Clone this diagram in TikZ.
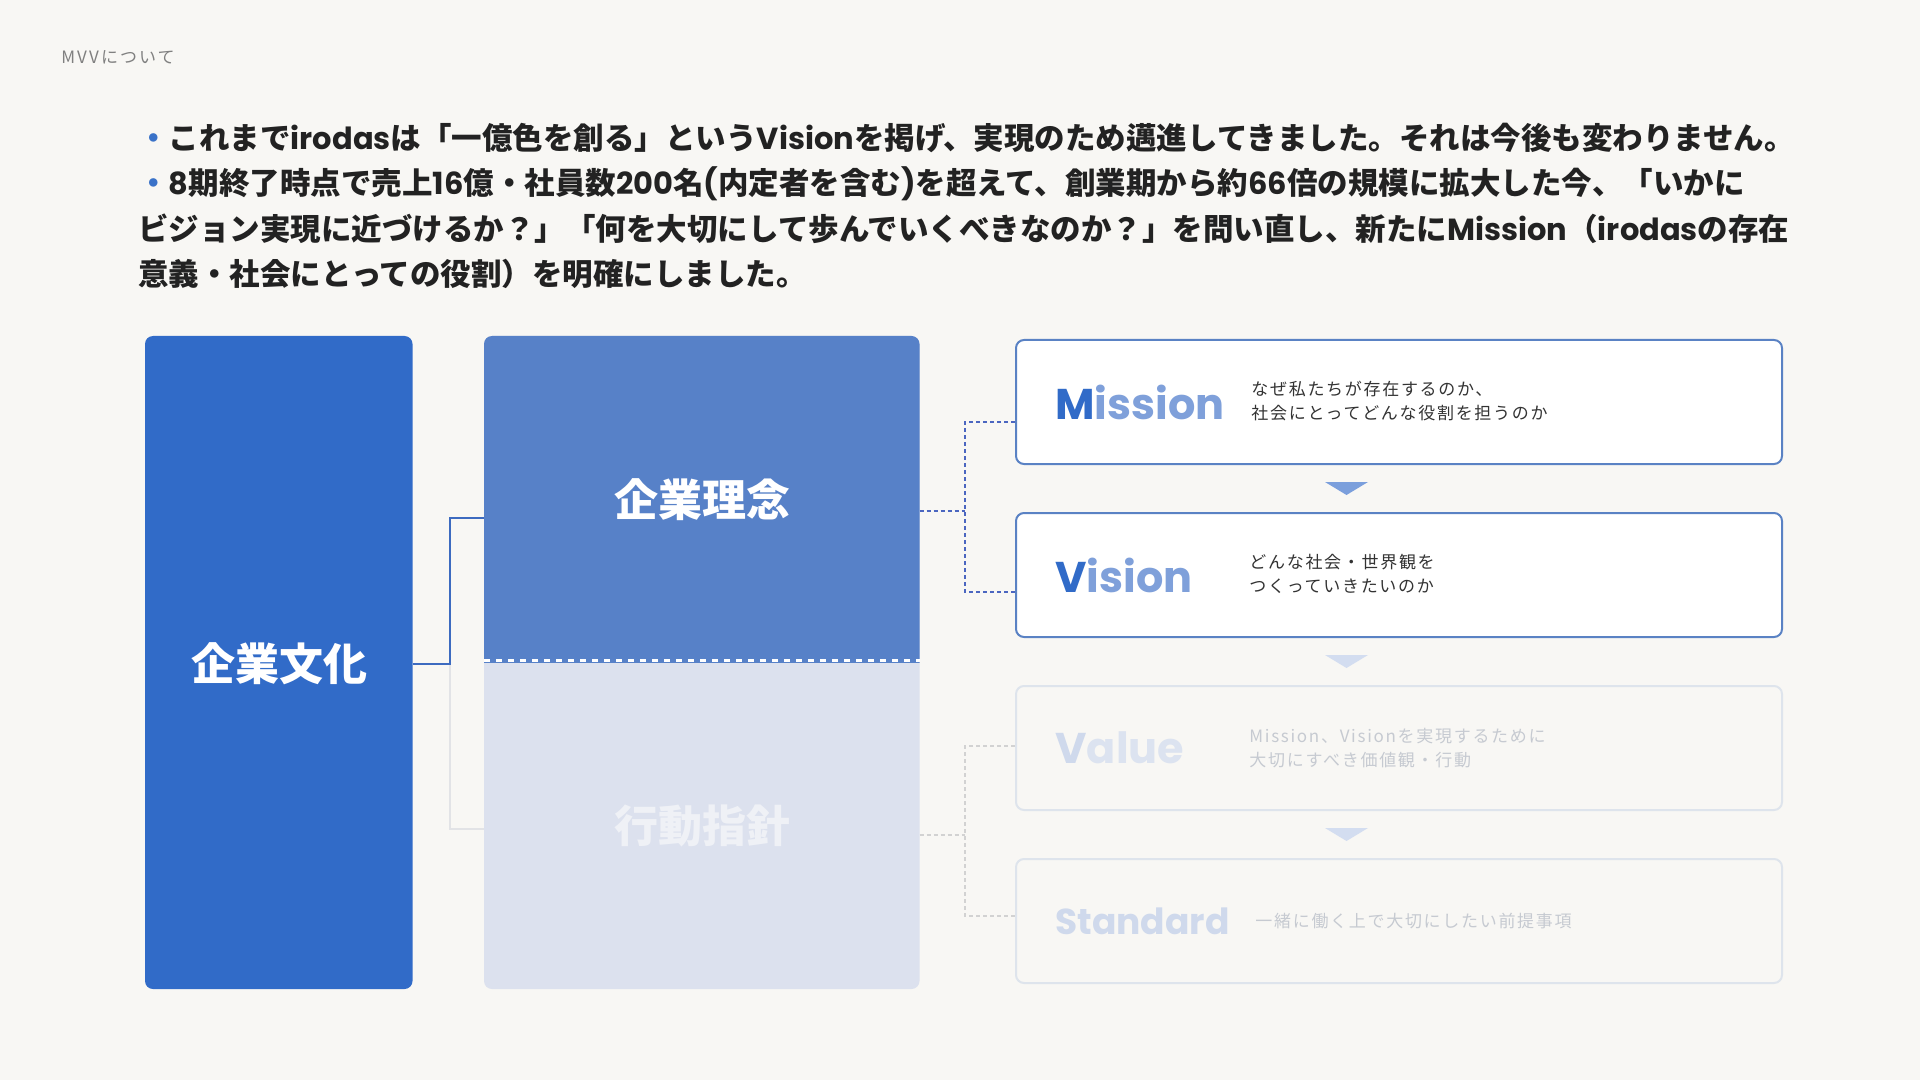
\documentclass[tikz,border=0pt]{standalone}
\usepackage{fontspec}
\setmainfont{Noto Sans CJK JP}
\newfontfamily\pop{Poppins}
\usetikzlibrary{fit}
\definecolor{bg}{HTML}{F8F7F4}
\definecolor{deep}{HTML}{316BC8}
\definecolor{mid}{HTML}{5781C8}
\definecolor{pale}{HTML}{DCE1EE}
\definecolor{paletext}{HTML}{EFF1F6}
\definecolor{lightblue}{HTML}{7FA0DA}
\definecolor{frame}{HTML}{5A82C4}
\definecolor{fadeframe}{HTML}{DEE4EC}
\definecolor{fadetext}{HTML}{C6CAD1}
\definecolor{fadeV}{HTML}{CFD9EC}
\definecolor{fadeL}{HTML}{DCE3F0}
\definecolor{connblue}{HTML}{3D6BC0}
\definecolor{dashblue}{HTML}{4B66C0}
\definecolor{greyline}{HTML}{E2E3E6}
\definecolor{greydash}{HTML}{D2D2D2}
\definecolor{tri1}{HTML}{7B9FDC}
\definecolor{tri2}{HTML}{D3DDF0}
\definecolor{ink}{HTML}{222222}
\definecolor{desctext}{HTML}{333333}
\definecolor{headgrey}{HTML}{808080}
\definecolor{bullet}{HTML}{3A72C8}
\newcommand\lat[1]{{\pop\bfseries #1}}
\tikzset{
  region/.style={inner sep=0pt, outer sep=0pt},
  conn/.style={draw=connblue, line width=1pt},
  fadeconn/.style={draw=greyline, line width=0.75pt},
  dconn/.style={draw=dashblue, line width=1pt, dash pattern=on 2pt off 1.5pt},
  fadedconn/.style={draw=greydash, line width=0.6pt, dash pattern=on 2pt off 1.5pt},
  card/.style={draw=frame, line width=1pt, fill=white, rounded corners=4pt, inner sep=0pt},
  fadecard/.style={draw=fadeframe, line width=1pt, rounded corners=4pt, inner sep=0pt},
  biglabel/.style={inner sep=0pt, font=\bfseries\fontsize{22}{26}\selectfont},
  mvlabel/.style={anchor=west, inner sep=0pt, font=\pop\bfseries\fontsize{21.5}{26}\selectfont},
  desc/.style={anchor=west, align=left, inner sep=0pt, font=\fontsize{8.5}{12}\selectfont\addfontfeature{LetterSpace=10}},
  bodyline/.style={anchor=west, inner sep=0pt, text=ink, font=\bfseries\fontsize{15.25}{22}\selectfont},
}
\begin{document}
\begin{tikzpicture}[x=0.5pt,y=-0.5pt]
\useasboundingbox[fill=bg] (0,0) rectangle (1920,1080);

% header
\node[anchor=west, inner sep=0pt, text=headgrey, font=\fontsize{8.5}{10}\selectfont\addfontfeature{LetterSpace=12}] (head) at (61,57) {MVVについて};

% body text
\node[bodyline] (l1) at (138,138) {\textcolor{bullet}{・}これまで\lat{irodas}は「一億色を創る」という\lat{Vision}を掲げ、実現のため邁進してきました。それは今後も変わりません。};
\node[bodyline] (l2) at (138,184) {\textcolor{bullet}{・}\lat{8}期終了時点で売上\lat{16}億・社員数\lat{200}名\lat{(}内定者を含む\lat{)}を超えて、創業期から約\lat{66}倍の規模に拡大した今、「いかに};
\node[bodyline] (l3) at (138,229) {ビジョン実現に近づけるか？」「何を大切にして歩んでいくべきなのか？」を問い直し、新たに\lat{Mission}（\lat{irodas}の存在};
\node[bodyline] (l4) at (138,274) {意義・社会にとっての役割）を明確にしました。};

% left block
\node[region, fit={(145,336)(412.5,989)}, fill=deep, rounded corners=4pt] (culture) {};
\node[biglabel, text=white] (culturelabel) at (279,664) {企業文化};

% middle block
\fill[pale, rounded corners=4pt] (484,336) rectangle (919.5,989);
\begin{scope}
\clip (480,330) rectangle (925,662);
\fill[mid, rounded corners=4pt] (484,336) rectangle (919.5,700);
\end{scope}
\draw[white, line width=1.5pt, dash pattern=on 3pt off 3pt] (484,660) -- (919.5,660);
\node[region, fit={(484,336)(919.5,662)}] (rinen) {};
\node[region, fit={(484,662)(919.5,989)}] (kodo) {};
\node[biglabel, text=white] (rinenlabel) at (702,500) {企業理念};
\node[biglabel, text=paletext] (kodolabel) at (702,826) {行動指針};

% connectors left -> middle
\coordinate (j1) at (450,664);
\draw[fadeconn] (j1) |- (kodo.west |- 0,829);
\draw[conn] (culture.east |- j1) -- (j1) |- (rinen.west |- 0,518);

% right cards
\node[card, fit={(1016,340)(1782,464)}] (mission) {};
\node[card, fit={(1016,513)(1782,637)}] (vision) {};
\node[fadecard, fit={(1016,686)(1782,810)}] (value) {};
\node[fadecard, fit={(1016,859)(1782,983)}] (standard) {};

\node[mvlabel] (missionlabel) at (1055,402) {\textcolor{deep}{M}\textcolor{lightblue}{ission}};
\node[mvlabel] (visionlabel) at (1055,575) {\textcolor{deep}{V}\textcolor{lightblue}{ision}};
\node[mvlabel] (valuelabel) at (1055,748) {\textcolor{fadeV}{V}\textcolor{fadeL}{alue}};
\node[mvlabel, font=\pop\bfseries\fontsize{18}{22}\selectfont, text=fadeV] (standardlabel) at (1055,921) {Standard};

\node[desc, text=desctext] (missiondesc) at (1251,401) {なぜ私たちが存在するのか、\\社会にとってどんな役割を担うのか};
\node[desc, text=desctext] (visiondesc) at (1249,574) {どんな社会・世界観を\\つくっていきたいのか};
\node[desc, text=fadetext] (valuedesc) at (1249,748) {Mission、Visionを実現するために\\大切にすべき価値観・行動};
\node[desc, text=fadetext] (standarddesc) at (1255,921) {一緒に働く上で大切にしたい前提事項};

% triangles
\fill[tri1] (1325,482) -- (1368,482) -- (1346.5,495) -- cycle;
\fill[tri2] (1325,655) -- (1368,655) -- (1346.5,668) -- cycle;
\fill[tri2] (1325,828) -- (1368,828) -- (1346.5,841) -- cycle;

% dashed connectors middle -> cards
\coordinate (j2) at (965,511);
\coordinate (j3) at (965,835);
\draw[dconn] (rinen.east |- j2) -- (j2);
\draw[dconn] (mission.west |- 0,422) -| (j2) |- (vision.west |- 0,592);
\draw[fadedconn] (kodo.east |- j3) -- (j3);
\draw[fadedconn] (value.west |- 0,746) -| (j3) |- (standard.west |- 0,916);
\end{tikzpicture}
\end{document}
